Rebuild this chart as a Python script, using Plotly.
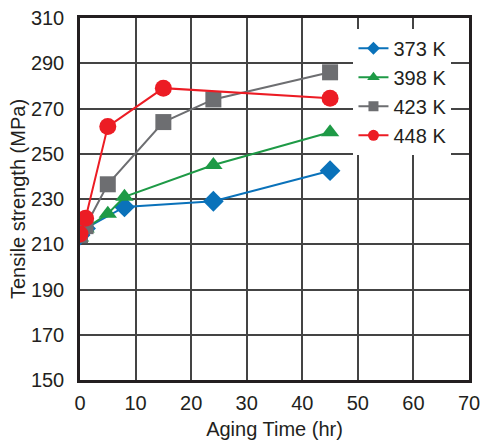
import plotly.graph_objects as go

series_names = ["373 K", "398 K", "423 K", "448 K"]
t_373 = [0, 1, 8, 24, 45]
v_373 = [214, 217, 226.5, 229, 242.5]
t_398 = [0, 1, 5, 8, 24, 45]
v_398 = [213, 217, 223.5, 231, 245, 259.5]
t_423 = [0, 1, 5, 15, 24, 45]
v_423 = [214, 218, 236.5, 264, 274, 286]
t_448 = [0, 1, 5, 15, 45]
v_448 = [214.5, 221.5, 262, 279, 274.5]

x_ticks = [0, 10, 20, 30, 40, 50, 60, 70]
y_ticks = [150, 170, 190, 210, 230, 250, 270, 290, 310]

colors = ["#0A72BA", "#1E9A46", "#6D6E71", "#EC1C24"]
symbols = ["diamond", "triangle-up", "square", "circle"]
sizes = [16, 16, 16, 17]
legend_sizes = [10, 11, 10, 11]

fig = go.Figure()
for i, (name, t, v, c, s, sz) in enumerate(zip(series_names,
                                [t_373, t_398, t_423, t_448],
                                [v_373, v_398, v_423, v_448],
                                colors, symbols, sizes)):
    fig.add_trace(go.Scatter(x=t, y=v, name=name, mode="lines+markers",
                             showlegend=False,
                             line=dict(color=c, width=2),
                             marker=dict(symbol=s, size=sz, color=c)))
# legend entries with smaller marker glyphs
for i, (name, c, s) in enumerate(zip(series_names, colors, symbols)):
    fig.add_trace(go.Scatter(x=[None], y=[None], name=name, mode="lines+markers",
                             legendgroup="g%d" % i,
                             line=dict(color=c, width=2),
                             marker=dict(symbol=s, size=legend_sizes[i], color=c)))

font = "Liberation Sans, Arial, sans-serif"
fig.update_layout(
    width=481, height=442,
    margin=dict(l=80, r=12, t=18, b=62),
    paper_bgcolor="white", plot_bgcolor="white",
    font=dict(family=font, size=20, color="#231F20"),
    showlegend=True,
    legend=dict(x=0.703, y=0.97, xanchor="left", yanchor="top",
                bgcolor="white", borderwidth=0,
                font=dict(size=20), tracegroupgap=0, itemsizing="trace"),
    xaxis=dict(range=[0, 70], tickvals=x_ticks, showgrid=True, automargin=False,
               gridcolor="#444444", gridwidth=1.5,
               showline=True, linecolor="#231F20", linewidth=2.5, mirror=True,
               zeroline=False, ticks="outside", ticklen=3, tickcolor="rgba(0,0,0,0)",
               title=dict(text="Aging Time (hr)", font=dict(size=20), standoff=10)),
    yaxis=dict(range=[150, 310], tickvals=y_ticks, showgrid=True, automargin=False,
               gridcolor="#444444", gridwidth=1.5,
               showline=True, linecolor="#231F20", linewidth=2.5, mirror=True,
               zeroline=False, ticks="outside", ticklen=9, tickcolor="rgba(0,0,0,0)",
               title=dict(text="Tensile strength (MPa)", font=dict(size=20), standoff=0)),
)

fig.write_html("out.html", config={"displayModeBar": False},
               post_script="document.body.style.margin='0';")
